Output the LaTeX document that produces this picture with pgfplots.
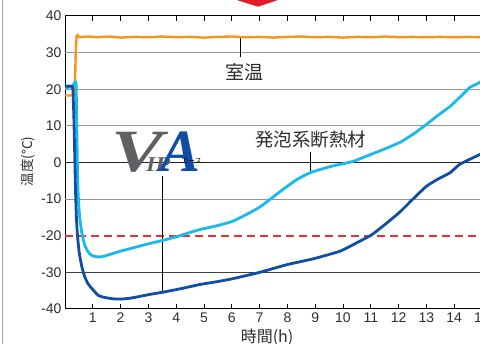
\documentclass[border=0pt]{standalone}
\usepackage{pgfplots}
\pgfplotsset{compat=1.18}
\usepackage{fontspec}
\setmainfont{Liberation Sans}
\newfontfamily\jp{Noto Sans CJK JP}
\newfontfamily\logo{Liberation Serif}
\definecolor{cOrange}{RGB}{247,148,29}
\definecolor{cLight}{RGB}{25,185,235}
\definecolor{cDark}{RGB}{15,78,162}
\definecolor{cGrid}{RGB}{150,150,150}
\definecolor{dashred}{RGB}{232,50,50}
\definecolor{cTxt}{RGB}{45,45,45}
\definecolor{cLogo}{RGB}{95,95,100}
\definecolor{cArrow}{RGB}{225,30,40}
\begin{document}
\begin{tikzpicture}
\begin{axis}[
  at={(65pt,35pt)}, anchor=south west,
  scale only axis, width=430.9pt, height=293pt,
  xmin=0, xmax=15.5, ymin=-40, ymax=40,
  xtick={1,...,15},
  ytick={-40,-30,-20,-10,0,10,20,30,40},
  yticklabels={-40,-30,-20,-10,0,10,20,30,40},
  xticklabels={1,2,3,4,5,6,7,8,9,10,11,12,13,14,15},
  tick label style={font=\fontsize{14}{14}\selectfont, text=cTxt},
  xtick align=inside, major tick length=5pt,
  ytick style={draw=none},
  xtick style={black, line width=0.8pt},
  axis line style={black, line width=1pt},
  clip=false,
]
% grid lines
\addplot[cGrid, line width=0.9pt, forget plot] coordinates {(0,30) (15.5,30)};
\addplot[cGrid, line width=0.9pt, forget plot] coordinates {(0,20) (15.5,20)};
\addplot[cGrid, line width=0.9pt, forget plot] coordinates {(0,10) (15.5,10)};
\addplot[black!85, line width=0.9pt, forget plot] coordinates {(0,0) (15.5,0)};
\addplot[cGrid, line width=0.9pt, forget plot] coordinates {(0,-10) (15.5,-10)};
\addplot[black!75, line width=0.9pt, forget plot] coordinates {(0,-30) (15.5,-30)};
\addplot[color=dashred, solid, line width=1.6pt, dash pattern=on 8pt off 5pt, forget plot] coordinates {(0,-20) (15.5,-20)};
% leader lines
\addplot[black, line width=0.8pt, forget plot] coordinates {(6.32,34.3) (6.32,28.7)};
\addplot[black, line width=0.8pt, forget plot] coordinates {(8.84,3.0) (8.84,-2.9)};
\addplot[black, line width=0.8pt, forget plot] coordinates {(3.5,-3.8) (3.5,-35.4)};
% room temperature
\addplot[cOrange, line width=2.4pt] coordinates {
(0,18.3) (0.32,18.3) (0.35,19) (0.37,25) (0.39,31) (0.42,34.6) (0.46,34.8) (0.5,34.2)
(0.8,34.4) (1.2,34.2) (1.6,34.4) (2.0,34.1) (2.5,34.3) (3.0,34.2) (3.5,34.4) (4.0,34.2)
(4.5,34.3) (5.0,34.1) (5.5,34.3) (6.0,34.4) (6.5,34.2) (7.0,34.3) (7.5,34.1) (8.0,34.3)
(8.5,34.4) (9.0,34.2) (9.5,34.3) (10.0,34.1) (10.5,34.3) (11.0,34.2) (11.5,34.4) (12.0,34.2)
(12.5,34.3) (13.0,34.2) (13.5,34.3) (14.0,34.2) (14.5,34.3) (15.0,34.2) (15.5,34.3)};
% foam insulation
\addplot[cLight, line width=2.8pt, smooth, tension=0.3] coordinates {
(0,20.5) (0.25,20.6) (0.32,21.5) (0.37,22) (0.40,21.3) (0.42,12) (0.44,2) (0.46,-6)
(0.49,-11) (0.53,-15) (0.6,-19) (0.7,-22.3) (0.8,-24) (0.9,-25) (1.0,-25.5) (1.2,-25.8)
(1.4,-25.6) (1.7,-24.9) (2.0,-24.2) (2.45,-23.3) (3.0,-22.2) (3.5,-21.3) (4.0,-20.3)
(4.5,-19.1) (4.86,-18.3) (5.5,-17.2) (6.05,-16) (6.65,-13.7) (7.0,-12.2) (7.37,-10.1)
(7.8,-7.6) (8.35,-4.6) (8.85,-2.7) (9.6,-1.0) (10.36,0.3) (11,2.2) (11.5,3.7) (12.05,5.5)
(12.5,7.6) (13.0,10.4) (13.4,12.8) (13.85,15.3) (14.2,17.8) (14.56,20.5) (14.75,21.2)
(15.0,22.2) (15.5,23.5)};
% VIP
\addplot[cDark, line width=2.8pt, smooth, tension=0.3] coordinates {
(0,20.8) (0.26,20.8) (0.29,19) (0.32,12) (0.35,2) (0.38,-8) (0.41,-15) (0.45,-20)
(0.51,-24.5) (0.6,-28.3) (0.7,-31) (0.82,-33) (0.9,-33.8) (1.0,-34.7) (1.2,-36.3)
(1.4,-36.8) (1.7,-37.2) (2.0,-37.3) (2.3,-37.1) (2.6,-36.7) (3.06,-36) (3.53,-35.4)
(4.2,-34.4) (4.86,-33.3) (5.5,-32.5) (6.05,-31.7) (7.0,-30) (7.98,-27.9) (8.93,-26.3)
(9.9,-24.2) (10.5,-21.9) (11.04,-19.7) (11.58,-16.5) (12.05,-13.5) (12.5,-10.1)
(13.0,-6.5) (13.4,-4.6) (13.85,-2.8) (14.2,-0.5) (14.93,2.2) (15.5,4)};
% labels
\node[text=cTxt, font=\jp\fontsize{19}{19}\selectfont] at (axis cs:6.47,24.6) {室温};
\node[text=cTxt, font=\jp\fontsize{18.5}{18.5}\selectfont] at (axis cs:8.84,6.3) {発泡系断熱材};
\node[text=cTxt, font=\jp\fontsize{16}{16}\selectfont] at (axis cs:7.27,-47.8) {時間(h)};
% logo
\node[anchor=base, inner sep=0pt, xscale=1.3, text=cLogo, font=\logo\bfseries\itshape\fontsize{60}{60}\selectfont] at (axis cs:2.62,-2.46) {V};
\node[anchor=base, inner sep=0pt, xscale=1.15, text=cLogo, font=\logo\bfseries\itshape\fontsize{21}{21}\selectfont] at (axis cs:3.35,-2.46) {IP};
\node[anchor=base, inner sep=0pt, text=cDark, font=\logo\bfseries\itshape\fontsize{60}{60}\selectfont] at (axis cs:4.14,-2.46) {A};
\node[inner sep=0pt, text=black, font=\jp\fontsize{7}{7}\selectfont] at (axis cs:4.55,0.3) {エース};
\end{axis}
\node[rotate=90, text=cTxt, font=\jp\fontsize{13.5}{13.5}\selectfont] at (28pt,182.5pt) {温度(°C)};
\draw[gray!70, line width=1.2pt] (2.7pt,0pt) -- (2.7pt,344pt);
\fill[cArrow] (236.7pt,344pt) -- (278pt,344pt) -- (258pt,337.3pt) -- cycle;
\pgfresetboundingbox
\path[use as bounding box] (0pt,0pt) rectangle (480pt,344pt);
\end{tikzpicture}
\end{document}
